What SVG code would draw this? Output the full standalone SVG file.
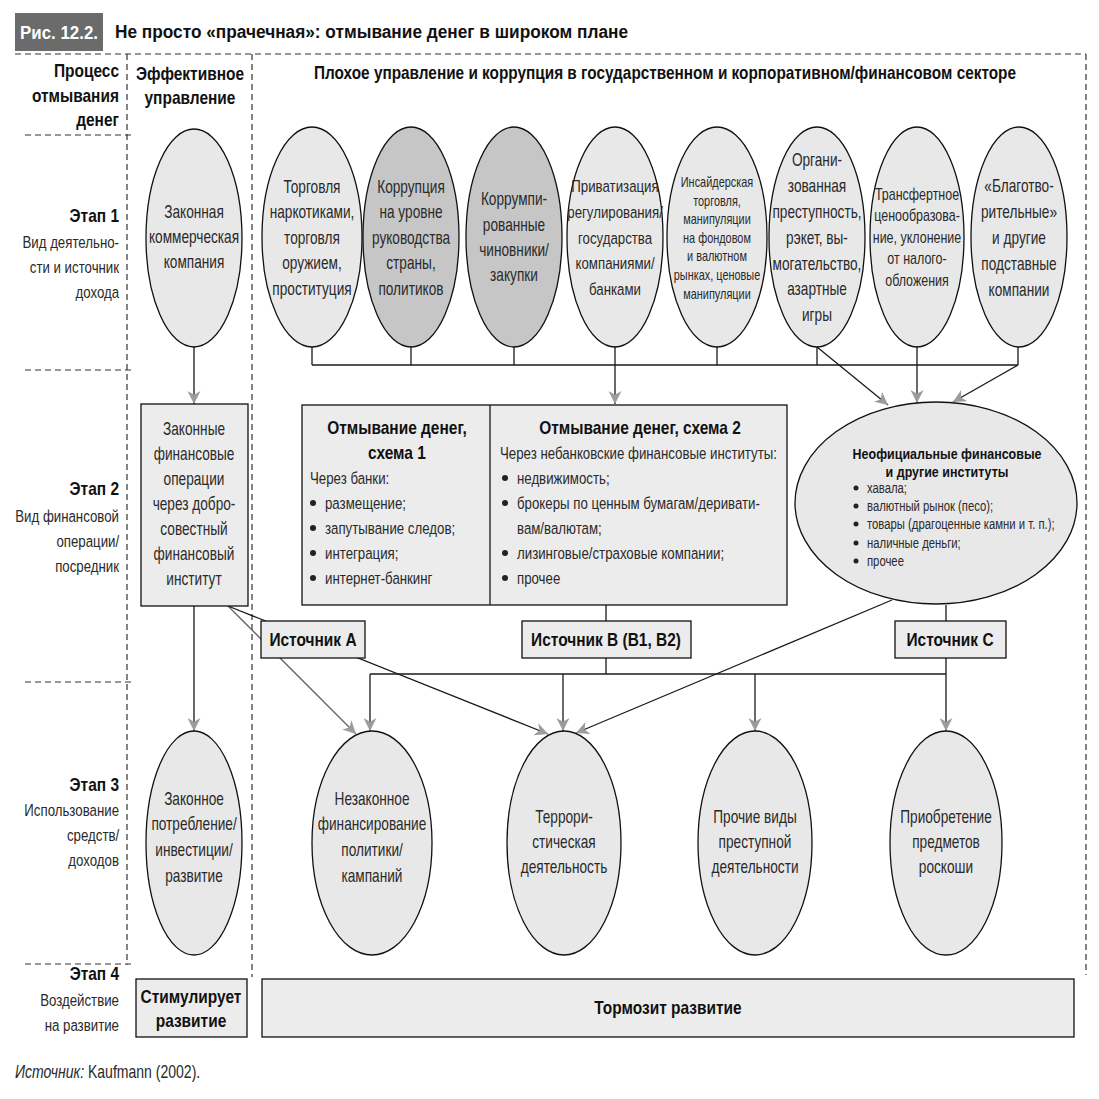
<svg xmlns="http://www.w3.org/2000/svg" width="1099" height="1099" viewBox="0 0 1099 1099">
<defs>
<style>
text{font-family:"Liberation Sans",Arial,sans-serif;fill:#2a2a2a;font-size:17.5px;transform-box:fill-box;transform:scaleX(0.78);}
.m{text-anchor:middle;transform-origin:center;}
.e{text-anchor:end;transform-origin:right center;}
.s{text-anchor:start;transform-origin:left center;}
.b{font-weight:bold;fill:#111;transform:scaleX(0.86);}
.h{transform:scaleX(0.853);}
.nt{transform:none;}
.f14{font-size:14px;}
.f145{font-size:14.5px;}
.f16{font-size:16px;}
.f17{font-size:17px;}
.f18{font-size:18px;}
.dash{fill:none;stroke:#333;stroke-width:1.2;stroke-dasharray:6 4;}
.el{fill:#e8e8e8;stroke:#111;stroke-width:1.3;}
.dk{fill:#c6c6c6;}
.bx{fill:#ececec;stroke:#111;stroke-width:1.3;}
.ln{fill:none;stroke:#1a1a1a;stroke-width:1.3;}
.gl{stroke:#666;}
.ar{marker-end:url(#ah);}
.dot{fill:#222;}
</style>
<marker id="ah" viewBox="0 0 12 12" refX="12" refY="6" markerWidth="13" markerHeight="13" markerUnits="userSpaceOnUse" orient="auto">
<path d="M0,0 L12,6 L0,12 L3.5,6 z" fill="#9c9c9c"/>
</marker>
</defs>
<rect width="1099" height="1099" fill="#ffffff"/>

<g id="title">
<rect x="15" y="13" width="88" height="38" fill="#6b6b6b"/>
<text class="b nt" x="20" y="39" font-size="19" style="fill:#fff" textLength="78" lengthAdjust="spacingAndGlyphs">Рис. 12.2.</text>
<text class="b nt" x="115" y="38" font-size="19" textLength="513" lengthAdjust="spacingAndGlyphs">Не просто «прачечная»: отмывание денег в широком плане</text>
</g>

<g id="frame">
<line class="dash" x1="15" y1="54" x2="1086" y2="54"/>
<line class="dash" x1="127" y1="54" x2="127" y2="965"/>
<line class="dash" x1="252" y1="54" x2="252" y2="977"/>
<line class="dash" x1="1086" y1="54" x2="1086" y2="975"/>
<line class="dash" x1="25" y1="135" x2="131" y2="135"/>
<line class="dash" x1="25" y1="370" x2="131" y2="370"/>
<line class="dash" x1="25" y1="682" x2="131" y2="682"/>
<line class="dash" x1="25" y1="964" x2="131" y2="964"/>
</g>

<g id="headers">
<text class="e b f18" x="119" y="77">Процесс</text>
<text class="e b f18" x="119" y="102">отмывания</text>
<text class="e b f18" x="119" y="126">денег</text>
<text class="m b f18" x="190" y="80">Эффективное</text>
<text class="m b f18" x="190" y="104">управление</text>
<text class="m b h f18" x="665" y="79">Плохое управление и коррупция в государственном и корпоративном/финансовом секторе</text>
</g>

<g id="stages">
<text class="e b f18" x="119" y="222">Этап 1</text>
<text class="e f17" x="119" y="248">Вид деятельно-</text>
<text class="e f17" x="119" y="273">сти и источник</text>
<text class="e f17" x="119" y="298">дохода</text>
<text class="e b f18" x="119" y="495">Этап 2</text>
<text class="e f17" x="119" y="522">Вид финансовой</text>
<text class="e f17" x="119" y="547">операции/</text>
<text class="e f17" x="119" y="572">посредник</text>
<text class="e b f18" x="119" y="791">Этап 3</text>
<text class="e f17" x="119" y="816">Использование</text>
<text class="e f17" x="119" y="841">средств/</text>
<text class="e f17" x="119" y="866">доходов</text>
<text class="e b f18" x="119" y="980">Этап 4</text>
<text class="e f17" x="119" y="1006">Воздействие</text>
<text class="e f17" x="119" y="1031">на развитие</text>
</g>

<g id="connectors">
<line class="ln ar" x1="194" y1="347" x2="194" y2="404"/>
<line class="ln ar" x1="194" y1="606" x2="194" y2="731"/>
<line class="ln" x1="312" y1="347" x2="312" y2="365"/>
<line class="ln" x1="411" y1="347" x2="411" y2="365"/>
<line class="ln" x1="514" y1="347" x2="514" y2="365"/>
<line class="ln" x1="717" y1="347" x2="717" y2="365"/>
<line class="ln" x1="817" y1="347" x2="817" y2="365"/>
<line class="ln" x1="1018" y1="347" x2="1018" y2="365"/>
<line class="ln" x1="312" y1="365" x2="1018" y2="365"/>
<line class="ln ar" x1="615" y1="347" x2="615" y2="404"/>
<line class="ln ar" x1="917" y1="347" x2="917" y2="403"/>
<line class="ln ar" x1="817" y1="347" x2="888" y2="405"/>
<line class="ln ar" x1="1018" y1="365" x2="953" y2="402"/>
<line class="ln gl ar" x1="228" y1="606" x2="356" y2="734"/>
<line class="ln ar" x1="228" y1="606" x2="548" y2="734"/>
<line class="ln ar" x1="892" y1="600" x2="576" y2="733"/>
<line class="ln" x1="606" y1="605" x2="606" y2="674"/>
<line class="ln" x1="946" y1="605" x2="946" y2="674"/>
<line class="ln" x1="370" y1="674" x2="946" y2="674"/>
<line class="ln ar" x1="370" y1="674" x2="370" y2="731"/>
<line class="ln ar" x1="563" y1="674" x2="563" y2="731"/>
<line class="ln ar" x1="755" y1="674" x2="755" y2="731"/>
<line class="ln ar" x1="946" y1="674" x2="946" y2="731"/>
</g>

<g id="legal-company">
<ellipse class="el" cx="194" cy="238" rx="48" ry="109"/>
<text class="m" x="194" y="218">Законная</text>
<text class="m" x="194" y="243">коммерческая</text>
<text class="m" x="194" y="268">компания</text>
</g>

<g id="drugs">
<ellipse class="el" cx="312" cy="237" rx="50" ry="110"/>
<text class="m" x="312" y="193">Торговля</text>
<text class="m" x="312" y="218">наркотиками,</text>
<text class="m" x="312" y="244">торговля</text>
<text class="m" x="312" y="269">оружием,</text>
<text class="m" x="312" y="295">проституция</text>
</g>

<g id="top-corruption">
<ellipse class="el dk" cx="411" cy="237" rx="48" ry="110"/>
<text class="m" x="411" y="193">Коррупция</text>
<text class="m" x="411" y="218">на уровне</text>
<text class="m" x="411" y="244">руководства</text>
<text class="m" x="411" y="269">страны,</text>
<text class="m" x="411" y="295">политиков</text>
</g>

<g id="officials">
<ellipse class="el dk" cx="514" cy="237" rx="48" ry="110"/>
<text class="m" x="514" y="205">Коррумпи-</text>
<text class="m" x="514" y="231">рованные</text>
<text class="m" x="514" y="256">чиновники/</text>
<text class="m" x="514" y="281">закупки</text>
</g>

<g id="privatization">
<ellipse class="el" cx="615" cy="237" rx="48" ry="110"/>
<text class="m f17" x="615" y="192">Приватизация</text>
<text class="m f17" x="615" y="218">регулирования/</text>
<text class="m f17" x="615" y="244">государства</text>
<text class="m f17" x="615" y="269">компаниями/</text>
<text class="m f17" x="615" y="295">банками</text>
</g>

<g id="insider">
<ellipse class="el" cx="717" cy="237" rx="50" ry="110"/>
<text class="m f14" x="717" y="187">Инсайдерская</text>
<text class="m f14" x="717" y="206">торговля,</text>
<text class="m f14" x="717" y="224">манипуляции</text>
<text class="m f14" x="717" y="243">на фондовом</text>
<text class="m f14" x="717" y="261">и валютном</text>
<text class="m f14" x="717" y="280">рынках, ценовые</text>
<text class="m f14" x="717" y="299">манипуляции</text>
</g>

<g id="organized-crime">
<ellipse class="el" cx="817" cy="237" rx="48" ry="110"/>
<text class="m" x="817" y="166">Органи-</text>
<text class="m" x="817" y="192">зованная</text>
<text class="m" x="817" y="218">преступность,</text>
<text class="m" x="817" y="244">рэкет, вы-</text>
<text class="m" x="817" y="270">могательство,</text>
<text class="m" x="817" y="295">азартные</text>
<text class="m" x="817" y="321">игры</text>
</g>

<g id="transfer-pricing">
<ellipse class="el" cx="917" cy="237" rx="47" ry="110"/>
<text class="m f16" x="917" y="200">Трансфертное</text>
<text class="m f16" x="917" y="221">ценообразова-</text>
<text class="m f16" x="917" y="243">ние, уклонение</text>
<text class="m f16" x="917" y="264">от налого-</text>
<text class="m f16" x="917" y="286">обложения</text>
</g>

<g id="charities">
<ellipse class="el" cx="1019" cy="237" rx="48" ry="110"/>
<text class="m" x="1019" y="192">«Благотво-</text>
<text class="m" x="1019" y="218">рительные»</text>
<text class="m" x="1019" y="244">и другие</text>
<text class="m" x="1019" y="270">подставные</text>
<text class="m" x="1019" y="296">компании</text>
</g>

<g id="legal-finance">
<rect class="bx" x="141" y="404" width="107" height="202"/>
<text class="m" x="194" y="435">Законные</text>
<text class="m" x="194" y="460">финансовые</text>
<text class="m" x="194" y="485">операции</text>
<text class="m" x="194" y="510">через добро-</text>
<text class="m" x="194" y="535">совестный</text>
<text class="m" x="194" y="560">финансовый</text>
<text class="m" x="194" y="585">институт</text>
</g>

<g id="schemes">
<rect class="bx" x="302" y="405" width="485" height="200"/>
<line class="ln" x1="490" y1="405" x2="490" y2="605"/>
<text class="m b f18" x="397" y="434">Отмывание денег,</text>
<text class="m b f18" x="397" y="459">схема 1</text>
<text class="s f17" x="310" y="484">Через банки:</text>
<circle class="dot" cx="313" cy="503" r="3"/>
<text class="s f17" x="325" y="509">размещение;</text>
<circle class="dot" cx="313" cy="528" r="3"/>
<text class="s f17" x="325" y="534">запутывание следов;</text>
<circle class="dot" cx="313" cy="553" r="3"/>
<text class="s f17" x="325" y="559">интеграция;</text>
<circle class="dot" cx="313" cy="578" r="3"/>
<text class="s f17" x="325" y="584">интернет-банкинг</text>
<text class="m b f18" x="640" y="434">Отмывание денег, схема 2</text>
<text class="s f17" x="500" y="459">Через небанковские финансовые институты:</text>
<circle class="dot" cx="505" cy="478" r="3"/>
<text class="s f17" x="517" y="484">недвижимость;</text>
<circle class="dot" cx="505" cy="503" r="3"/>
<text class="s f17" x="517" y="509">брокеры по ценным бумагам/деривати-</text>
<text class="s f17" x="517" y="534">вам/валютам;</text>
<circle class="dot" cx="505" cy="553" r="3"/>
<text class="s f17" x="517" y="559">лизинговые/страховые компании;</text>
<circle class="dot" cx="505" cy="578" r="3"/>
<text class="s f17" x="517" y="584">прочее</text>
</g>

<g id="informal">
<ellipse class="el" cx="936" cy="503" rx="141" ry="101"/>
<text class="m b f145" x="947" y="459">Неофициальные финансовые</text>
<text class="m b f145" x="947" y="477">и другие институты</text>
<circle class="dot" cx="856" cy="488" r="2.5"/>
<text class="s f145" x="867" y="493">хавала;</text>
<circle class="dot" cx="856" cy="506" r="2.5"/>
<text class="s f145" x="867" y="511">валютный рынок (песо);</text>
<circle class="dot" cx="856" cy="524" r="2.5"/>
<text class="s f145" x="867" y="529">товары (драгоценные камни и т. п.);</text>
<circle class="dot" cx="856" cy="543" r="2.5"/>
<text class="s f145" x="867" y="548">наличные деньги;</text>
<circle class="dot" cx="856" cy="561" r="2.5"/>
<text class="s f145" x="867" y="566">прочее</text>
</g>

<g id="source-a">
<rect class="bx" x="261" y="621" width="104" height="37"/>
<text class="m b f18" x="313" y="646">Источник А</text>
</g>
<g id="source-b">
<rect class="bx" x="522" y="621" width="169" height="37"/>
<text class="m b f18" x="606" y="646">Источник В (В1, В2)</text>
</g>
<g id="source-c">
<rect class="bx" x="895" y="621" width="111" height="37"/>
<text class="m b f18" x="950" y="646">Источник С</text>
</g>

<g id="legal-use">
<ellipse class="el" cx="194" cy="843" rx="48" ry="112"/>
<text class="m" x="194" y="805">Законное</text>
<text class="m" x="194" y="830">потребление/</text>
<text class="m" x="194" y="856">инвестиции/</text>
<text class="m" x="194" y="882">развитие</text>
</g>

<g id="politics">
<ellipse class="el" cx="372" cy="843" rx="60" ry="112"/>
<text class="m" x="372" y="805">Незаконное</text>
<text class="m" x="372" y="830">финансирование</text>
<text class="m" x="372" y="856">политики/</text>
<text class="m" x="372" y="882">кампаний</text>
</g>

<g id="terror">
<ellipse class="el" cx="564" cy="843" rx="57" ry="112"/>
<text class="m" x="564" y="823">Террори-</text>
<text class="m" x="564" y="848">стическая</text>
<text class="m" x="564" y="873">деятельность</text>
</g>

<g id="other-crime">
<ellipse class="el" cx="755" cy="843" rx="57" ry="112"/>
<text class="m" x="755" y="823">Прочие виды</text>
<text class="m" x="755" y="848">преступной</text>
<text class="m" x="755" y="873">деятельности</text>
</g>

<g id="luxury">
<ellipse class="el" cx="946" cy="843" rx="56" ry="112"/>
<text class="m" x="946" y="823">Приобретение</text>
<text class="m" x="946" y="848">предметов</text>
<text class="m" x="946" y="873">роскоши</text>
</g>

<g id="stimulates">
<rect class="bx" x="136" y="979" width="111" height="58"/>
<text class="m b f18" x="191" y="1003">Стимулирует</text>
<text class="m b f18" x="191" y="1027">развитие</text>
</g>

<g id="hinders">
<rect class="bx" x="262" y="979" width="812" height="58"/>
<text class="m b f18" x="668" y="1014">Тормозит развитие</text>
</g>

<g id="footer">
<text class="s f18" x="15" y="1078"><tspan font-style="italic">Источник:</tspan> Kaufmann (2002).</text>
</g>
</svg>
